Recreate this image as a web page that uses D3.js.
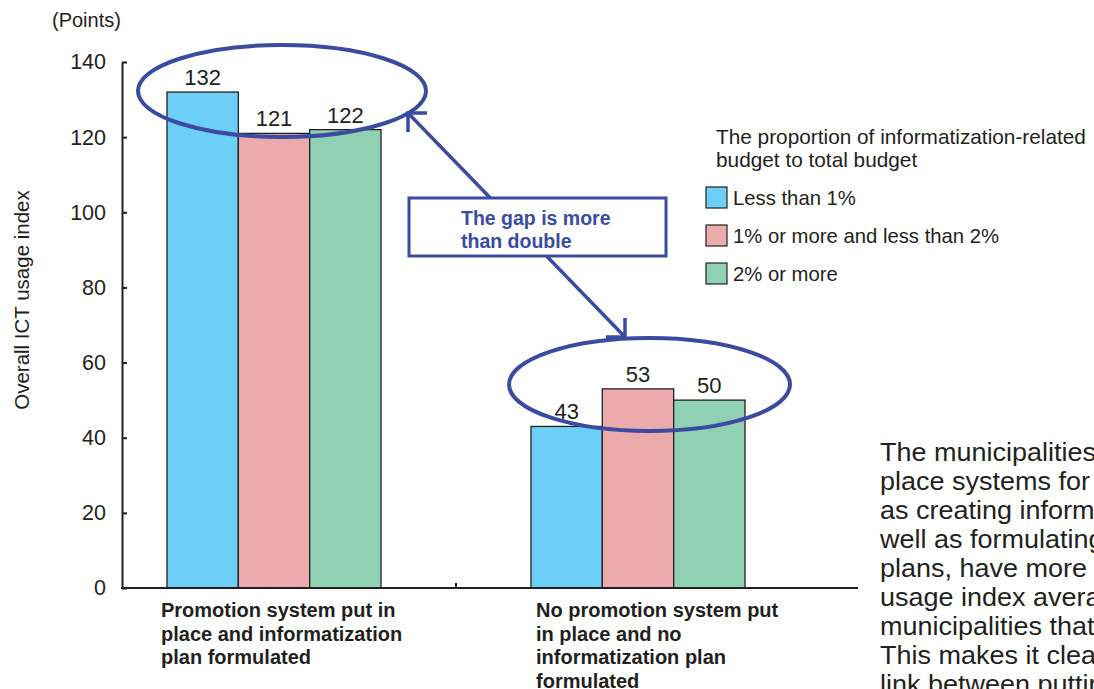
<!DOCTYPE html>
<html>
<head>
<meta charset="utf-8">
<script src="https://cdn.jsdelivr.net/npm/d3@7/dist/d3.min.js"></script>
<style>
  html, body { margin: 0; padding: 0; background: #fff; overflow: hidden; }
  svg { display: block; font-family: "Liberation Sans", Arial, Helvetica, sans-serif; }
</style>
</head>
<body>
<svg id="chart" width="1094" height="689"></svg>
<script>
// ---- data ----
const categories = [
  "Promotion system put in place and informatization plan formulated",
  "No promotion system put in place and no informatization plan formulated"
];
const categoryLines = [
  ["Promotion system put in", "place and informatization", "plan formulated"],
  ["No promotion system put", "in place and no", "informatization plan", "formulated"]
];
const seriesNames = ["Less than 1%", "1% or more and less than 2%", "2% or more"];
const lessThan1 = [132, 43];
const from1to2 = [121, 53];
const twoOrMore = [122, 50];
const yTicks = [0, 20, 40, 60, 80, 100, 120, 140];
const legendTitle = ["The proportion of informatization-related", "budget to total budget"];
const calloutLines = ["The gap is more", "than double"];
const noteLines = [
  "The municipalities that have put in",
  "place systems for promoting ICT, such",
  "as creating informatization divisions, as",
  "well as formulating informatization",
  "plans, have more than double the ICT",
  "usage index average of the",
  "municipalities that have not done so.",
  "This makes it clear that there is a",
  "link between putting systems in place"
];

const seriesValues = [lessThan1, from1to2, twoOrMore];
const colors = ["#6dcff5", "#ebabad", "#90d1b3"];
const ink = "#231f20";
const navy = "#3a4ba1";

const svg = d3.select("#chart");

// ---- scales ----
const y = d3.scaleLinear().domain([0, 140]).range([588, 62]);
const x0 = d3.scaleBand().domain(categories).range([92, 820]);
const groupWidth = 214;
const x1 = d3.scaleBand().domain(seriesNames).range([0, groupWidth]);
const groupLeft = c => x0(c) + (x0.bandwidth() - groupWidth) / 2;

// ---- bars ----
const bars = [];
categories.forEach((c, ci) => {
  seriesNames.forEach((s, si) => {
    bars.push({ c, s, si, v: seriesValues[si][ci] });
  });
});

svg.append("g").selectAll("rect").data(bars).join("rect")
  .attr("x", d => groupLeft(d.c) + x1(d.s))
  .attr("y", d => y(d.v))
  .attr("width", x1.bandwidth())
  .attr("height", d => y(0) - y(d.v))
  .attr("fill", d => colors[d.si])
  .attr("stroke", ink)
  .attr("stroke-width", 1.3);

svg.append("g").selectAll("text").data(bars).join("text")
  .attr("x", d => groupLeft(d.c) + x1(d.s) + x1.bandwidth() / 2)
  .attr("y", d => y(d.v) - 7)
  .attr("text-anchor", "middle")
  .attr("font-size", 22)
  .attr("fill", ink)
  .text(d => d.v);

// ---- y axis ----
const yAxis = d3.axisLeft(y).tickValues(yTicks).tickSize(-5).tickPadding(16).tickSizeOuter(0);
const gy = svg.append("g").attr("transform", "translate(122,0)").call(yAxis);
gy.select(".domain").attr("stroke", ink).attr("stroke-width", 2);
gy.selectAll(".tick line").attr("stroke", ink).attr("stroke-width", 2);
gy.selectAll(".tick text")
  .attr("font-size", 21.5)
  .attr("fill", ink)
  .attr("font-family", "Liberation Sans, Arial, sans-serif");

// ---- x axis ----
const xAxis = d3.axisBottom(x0).tickSize(0).tickFormat("");
const gx = svg.append("g").attr("transform", `translate(0,${y(0)})`).call(xAxis);
gx.select(".domain").remove();
svg.append("line")
  .attr("x1", 121).attr("x2", 858)
  .attr("y1", y(0)).attr("y2", y(0))
  .attr("stroke", ink).attr("stroke-width", 2);
// category separator tick
svg.append("line")
  .attr("x1", x0(categories[1])).attr("x2", x0(categories[1]))
  .attr("y1", y(0)).attr("y2", y(0) - 5)
  .attr("stroke", ink).attr("stroke-width", 2);

// category labels
const labelShift = [-6, 5];
categories.forEach((c, ci) => {
  const t = svg.append("text")
    .attr("font-size", 20)
    .attr("font-weight", "bold")
    .attr("fill", ink);
  categoryLines[ci].forEach((line, li) => {
    t.append("tspan")
      .attr("x", groupLeft(c) + labelShift[ci])
      .attr("y", 617 + li * 23.5)
      .text(line);
  });
});

// axis titles
svg.append("text")
  .attr("x", 52).attr("y", 27)
  .attr("font-size", 20).attr("fill", ink)
  .text("(Points)");
svg.append("text")
  .attr("transform", "translate(29,300) rotate(-90)")
  .attr("text-anchor", "middle")
  .attr("font-size", 20.5).attr("fill", ink)
  .text("Overall ICT usage index");

// ---- legend ----
const lg = svg.append("g");
legendTitle.forEach((line, i) => {
  lg.append("text")
    .attr("x", 716).attr("y", 144 + i * 23)
    .attr("font-size", 20.8).attr("fill", ink)
    .text(line);
});
seriesNames.forEach((s, i) => {
  const yy = 187 + i * 38;
  lg.append("rect")
    .attr("x", 706).attr("y", yy)
    .attr("width", 21).attr("height", 21)
    .attr("fill", colors[i]).attr("stroke", ink).attr("stroke-width", 1.2);
  lg.append("text")
    .attr("x", 733).attr("y", yy + 18)
    .attr("font-size", 20.3).attr("fill", ink)
    .text(s);
});

// ---- annotations ----
const ann = svg.append("g").attr("stroke", navy).attr("fill", "none").attr("stroke-width", 4);
ann.append("ellipse").attr("cx", 282).attr("cy", 91).attr("rx", 144).attr("ry", 46);
ann.append("ellipse").attr("cx", 649.5).attr("cy", 384.5).attr("rx", 140.5).attr("ry", 46.5);

// double-headed arrow between the two groups
const aStart = [408, 113], aEnd = [625, 337], head = 19;
const arrow = svg.append("g").attr("stroke", navy).attr("fill", "none")
  .attr("stroke-width", 3.5).attr("stroke-linecap", "butt");
arrow.append("line")
  .attr("x1", aStart[0]).attr("y1", aStart[1])
  .attr("x2", aEnd[0]).attr("y2", aEnd[1]);
arrow.append("path")
  .attr("d", `M${aStart[0] + head},${aStart[1]} L${aStart[0]},${aStart[1]} L${aStart[0]},${aStart[1] + head}`);
arrow.append("path")
  .attr("d", `M${aEnd[0] - head},${aEnd[1]} L${aEnd[0]},${aEnd[1]} L${aEnd[0]},${aEnd[1] - head}`);

// callout box
svg.append("rect")
  .attr("x", 409).attr("y", 198)
  .attr("width", 257).attr("height", 58)
  .attr("fill", "#fff").attr("stroke", navy).attr("stroke-width", 3);
calloutLines.forEach((line, i) => {
  svg.append("text")
    .attr("x", 461).attr("y", 225 + i * 23)
    .attr("font-size", 19.5).attr("font-weight", "bold")
    .attr("fill", navy)
    .text(line);
});

// ---- side note ----
const note = svg.append("text")
  .attr("transform", "translate(880,0) scale(1.08,1)")
  .attr("font-size", 25).attr("fill", ink);
noteLines.forEach((line, i) => {
  note.append("tspan").attr("x", 0).attr("y", 461 + i * 29).text(line);
});
</script>
</body>
</html>
